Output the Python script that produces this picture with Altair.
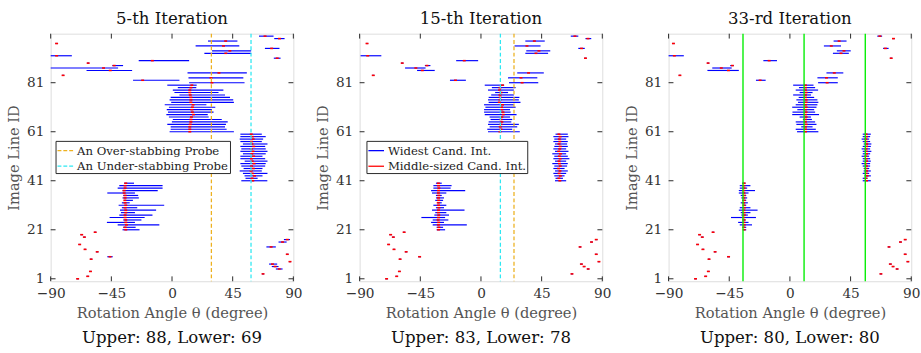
import altair as alt
import pandas as pd

FONT = "DejaVu Serif"
W, H = 249, 254
X_TICKS = [-90, -45, 0, 45, 90]
Y_TICKS = [1, 21, 41, 61, 81]
ROWS = list(range(1, 101))

TITLES = ["5-th Iteration", "15-th Iteration", "33-rd Iteration"]
CAPTIONS = ["Upper: 88, Lower: 69", "Upper: 83, Lower: 78", "Upper: 80, Lower: 80"]
INTERVAL_NAMES = ["Widest Cand. Int.", "Middle-sized Cand. Int."]
PROBE_NAMES = ["An Over-stabbing Probe", "An Under-stabbing Probe"]

# ---------- iteration 5 ----------
lo5 = [-70.8, -63.3, 66.7, -61.3, 77.0, 74.0, 72.0, 86.7, -60.8, -48.0, 84.7, -56.3, -65.3, 70.0, -69.3, 79.0, 83.0, -65.8, -67.8, -57.8,
       -36.7, -36.2, -40.3, -48.3, -36.2, -46.3, -39.1, -37.9, -38.6, -37.2, -39.6, -37.2, -35.5, -36.7, -36.2, -48.0, -36.7, -40.3, -39.1, -35.5,
       51.4, 54.5, 53.8, 52.6, 50.2, 53.1, 51.4, 50.7, 53.9, 50.7, 50.7, 52.6, 50.7, 51.4, 50.7, 52.6, 50.7, 50.2, 50.7, 50.7,
       -1.8, -1.0, -1.0, -3.5, -0.1, 0.6, -2.3, -4.2, -3.0, -3.9, -2.3, -5.4, -0.6, -1.8, -1.0, 5.5, 1.8, 0.6, 4.3, -3.5,
       12.7, -28.9, 12.2, -81.6, 11.5, -63.4, -90.0, -44.3, -63.0, -24.7, 75.5, -90.0, 24.0, 29.7, 68.9, 17.5, -86.4, 26.7, 75.8, 64.5]
hi5 = [-69.2, -61.7, 68.3, -59.7, 82.0, 79.0, 78.0, 88.3, -59.2, -44.0, 86.3, -54.7, -63.7, 77.0, -67.7, 85.0, 87.5, -64.2, -66.2, -56.2,
       -24.1, -27.0, -9.4, -27.5, -22.7, -20.3, -14.5, -27.5, -11.8, -25.8, -5.8, -31.4, -29.0, -24.6, -25.1, -27.5, -10.6, -7.0, -7.0, -28.2,
       70.7, 63.5, 67.1, 70.8, 66.6, 67.1, 69.1, 69.5, 70.8, 69.1, 67.1, 69.5, 70.8, 69.5, 69.1, 70.8, 66.6, 67.6, 69.5, 66.6,
       45.9, 40.5, 39.3, 40.0, 41.3, 36.9, 27.2, 26.5, 30.8, 29.6, 32.1, 25.5, 45.9, 45.4, 43.0, 39.3, 34.5, 38.1, 18.0, 18.3,
       53.8, 5.5, 52.9, -80.0, 55.5, -29.6, -40.0, -36.3, -61.4, 12.7, 80.5, -74.3, 58.7, 58.7, 79.7, 49.9, -84.8, 48.5, 83.5, 75.3]
mid5 = [-70.0, -62.5, 67.5, -60.5, 79.5, 76.5, 74.5, 87.5, -60.0, -46.0, 85.5, -55.5, -64.5, 73.5, -68.5, 82.0, 85.5, -65.0, -67.0, -57.0,
        -34.3, -34.8, -33.8, -34.3, -34.3, -34.8, -34.8, -34.3, -34.3, -34.8, -34.3, -34.8, -35.0, -34.8, -34.8, -35.5, -35.5, -34.8, -34.8, -34.3,
        59.9, 59.4, 61.1, 59.5, 58.7, 60.3, 59.0, 60.8, 59.5, 58.9, 60.5, 59.2, 60.0, 58.8, 60.6, 59.3, 58.9, 60.2, 59.6, 58.8,
        13.2, 13.2, 13.2, 13.5, 14.0, 14.0, 14.4, 15.9, 15.1, 14.7, 15.1, 15.6, 14.0, 14.0, 14.0, 13.5, 13.2, 13.2, 14.0, 14.7,
        29.6, -21.8, 28.9, -80.8, 34.8, -45.8, -50.8, -42.9, -62.2, -14.6, 78.0, -85.6, 39.9, 42.9, 73.9, 38.2, -85.6, 39.8, 79.7, 69.0]
probe5 = [29.2, 58.6]   # over-stabbing, under-stabbing

# rows 1-20 in the later iterations (single points)
lo_fix = [-70.8, -63.3, 66.7, -61.3, 78.7, 75.7, 73.7, 86.7, -60.8, -46.5, 84.7, -56.3, -65.3, 72.7, -69.3, 81.2, 84.7, -65.8, -67.8, -57.8]
hi_fix = [-69.2, -61.7, 68.3, -59.7, 80.3, 77.3, 75.3, 88.3, -59.2, -44.5, 86.3, -54.7, -63.7, 74.3, -67.7, 82.8, 86.3, -64.2, -66.2, -56.2]
mid_fix = [-70.0, -62.5, 67.5, -60.5, 79.5, 76.5, 74.5, 87.5, -60.0, -45.5, 85.5, -55.5, -64.5, 73.5, -68.5, 82.0, 85.5, -65.0, -67.0, -57.0]

# ---------- iteration 15 ----------
lo15 = lo_fix + [
    -32.9, -32.9, -35.8, -37.0, -35.8, -44.2, -34.6, -33.9, -36.3, -33.4, -35.3, -32.2, -33.9, -33.4, -33.4, -36.3, -37.0, -35.3, -35.3, -33.4,
    54.9, 55.3, 54.4, 53.7, 54.9, 53.7, 54.4, 52.9, 54.9, 53.7, 54.4, 52.9, 54.9, 53.7, 54.4, 54.9, 53.7, 54.4, 53.7, 55.3,
    5.2, 4.7, 6.4, 5.2, 5.7, 7.1, 6.4, 2.8, 2.3, 2.3, 3.3, 2.3, 5.7, 5.2, 5.7, 7.6, 10.5, 5.2, 8.1, 2.8,
    20.8, -23.0, 20.1, -80.7, 26.9, -47.4, -56.3, -41.6, -59.2, -18.4, 76.7, -89.3, 32.9, 33.6, 72.2, 24.9, -85.3, 32.9, 77.5, 66.6]
hi15 = hi_fix + [
    -26.6, -28.1, -10.5, -27.4, -24.2, -26.6, -23.7, -25.7, -12.2, -27.4, -25.7, -29.1, -28.1, -27.4, -29.1, -25.7, -11.7, -22.5, -21.8, -29.1,
    63.2, 60.8, 62.0, 63.2, 64.4, 62.0, 63.9, 64.4, 63.2, 65.6, 64.4, 63.2, 64.9, 63.2, 64.4, 63.9, 64.4, 63.2, 64.9, 64.4,
    28.8, 23.2, 26.9, 28.1, 22.5, 23.2, 21.6, 26.4, 22.0, 21.6, 25.7, 24.4, 29.3, 28.1, 28.5, 24.4, 20.1, 24.4, 25.7, 17.2,
    42.5, -11.2, 41.8, -79.1, 46.6, -34.3, -41.1, -37.5, -57.6, -2.1, 78.3, -73.9, 49.8, 51.4, 77.0, 44.2, -83.7, 47.3, 81.8, 72.2]
mid15 = mid_fix + [
    -31.5, -31.2, -31.6, -31.4, -31.8, -31.5, -31.3, -31.6, -31.5, -31.2, -31.5, -31.7, -31.4, -31.5, -31.3, -31.6, -31.5, -31.2, -31.5, -31.6,
    58.5, 57.8, 58.9, 58.0, 58.6, 57.6, 58.8, 58.2, 57.9, 58.7, 58.1, 58.9, 57.7, 58.4, 58.8, 57.9, 58.5, 58.1, 58.7, 57.8,
    14.1, 14.8, 14.3, 14.8, 15.5, 14.8, 15.5, 16.5, 16.3, 15.5, 15.3, 16.0, 13.6, 14.1, 14.3, 14.1, 14.8, 13.8, 14.1, 16.0,
    30.5, -18.9, 29.7, -79.9, 35.3, -43.5, -48.3, -40.1, -58.4, -12.4, 77.5, -84.0, 40.8, 43.0, 74.6, 34.1, -84.5, 39.6, 79.4, 69.7]
probe15 = [24.5, 14.4]  # over-stabbing, under-stabbing

# ---------- iteration 33 ----------
lo33 = lo_fix + [
    -34.8, -34.8, -37.2, -38.4, -35.3, -43.7, -36.0, -36.5, -37.9, -37.2, -34.8, -36.5, -35.5, -36.0, -36.5, -37.9, -37.9, -37.2, -37.2, -35.5,
    54.0, 54.0, 55.2, 54.0, 54.7, 54.7, 54.0, 53.2, 54.0, 54.0, 53.2, 54.0, 54.0, 53.2, 54.0, 54.7, 54.0, 53.2, 54.0, 54.0,
    5.3, 4.3, 8.4, 4.8, 4.3, 9.6, 7.2, 1.7, 1.9, 5.5, 1.7, 4.3, 6.0, 4.8, 6.5, 2.4, 7.2, 4.3, 6.7, 2.4,
    20.9, -25.2, 20.4, -82.4, 27.1, -61.2, -57.6, -44.3, -61.5, -19.7, 74.3, -90.0, 31.9, 34.8, 69.1, 25.2, -87.2, 32.4, 76.0, 64.8]
hi33 = hi_fix + [
    -32.4, -32.4, -28.1, -30.7, -32.9, -25.2, -31.2, -29.3, -24.0, -29.3, -32.4, -31.2, -32.4, -31.7, -32.4, -30.7, -25.9, -31.7, -29.3, -32.9,
    60.0, 57.6, 60.0, 58.8, 60.0, 58.8, 59.5, 59.5, 60.0, 59.5, 58.8, 59.5, 60.4, 59.5, 60.0, 60.4, 59.5, 58.8, 59.5, 60.0,
    21.1, 19.2, 16.8, 19.7, 18.7, 16.3, 15.6, 21.6, 18.7, 18.0, 19.7, 20.4, 21.1, 20.4, 18.0, 15.6, 16.8, 20.9, 18.7, 17.5,
    35.5, -18.0, 35.5, -80.8, 39.6, -37.9, -43.2, -41.6, -59.9, -9.6, 75.9, -78.7, 43.7, 45.1, 73.2, 37.9, -85.6, 42.0, 77.6, 68.4]
mid33 = mid_fix + [
    -34.0, -34.3, -33.9, -34.2, -34.0, -34.4, -33.8, -34.1, -34.2, -33.9, -34.1, -34.3, -34.0, -34.2, -33.9, -34.1, -34.3, -34.0, -34.2, -34.0,
    56.8, 56.3, 57.2, 56.5, 56.9, 56.4, 56.7, 56.2, 56.8, 56.5, 56.3, 56.9, 56.6, 56.4, 56.8, 57.0, 56.5, 56.3, 56.7, 56.5,
    11.5, 11.5, 11.5, 12.0, 11.5, 11.5, 12.0, 11.5, 12.0, 11.5, 12.0, 11.5, 12.0, 12.0, 11.5, 11.5, 12.0, 11.5, 11.5, 11.5,
    27.6, -22.1, 27.1, -81.6, 32.9, -45.6, -50.9, -42.7, -60.7, -15.4, 75.1, -85.7, 37.9, 40.1, 70.8, 30.7, -86.4, 36.5, 76.8, 66.7]
stab33 = [-34.8, 10.5, 55.9]

BLUE, RED = "#0000FF", "#FF0000"
ORANGE, CYAN, GREEN = "#EDB120", "#2FE8F2", "#00EE00"
FRAME = "#262626"
RED_HALF = 1.1
DASH = [4, 2.5]

XS = alt.Scale(domain=[-90, 90], nice=False, zero=False)
YS = alt.Scale(domain=[0, 101], nice=False, zero=False)
XAX = alt.Axis(values=X_TICKS, title="Rotation Angle θ (degree)", grid=False, ticks=False, domain=False,
               labelFlush=False, labelPadding=6, titlePadding=5, labelFont=FONT, labelFontSize=14,
               titleFont=FONT, titleFontSize=15, titleFontWeight="normal", labelColor="#333333",
               titleColor="#555555")
YAX = alt.Axis(values=Y_TICKS, title="Image Line ID", grid=False, ticks=False, domain=False,
               labelPadding=7, titlePadding=5, labelFont=FONT, labelFontSize=14,
               titleFont=FONT, titleFontSize=15, titleFontWeight="normal", labelColor="#333333",
               titleColor="#555555")


def X(f):
    return alt.X(f, type="quantitative", scale=XS, axis=XAX)


def Y(f):
    return alt.Y(f, type="quantitative", scale=YS, axis=YAX)


def legend_props(lx, dash=None):
    kw = dict(title=None, orient="none", legendX=lx, legendY=110, symbolType="stroke",
              symbolStrokeWidth=1.3, symbolSize=256, labelFont=FONT, labelFontSize=12,
              labelColor="#222222", strokeColor=FRAME, fillColor="white", padding=1,
              rowPadding=1, labelOffset=3, labelLimit=400, cornerRadius=0)
    if dash:
        kw["symbolDash"] = dash
    return alt.Legend(**kw)


def panel(title, caption, lo, hi, mid, probe_layers, interval_legend):
    blue_df = pd.DataFrame({"row": ROWS, "lo": lo, "hi": hi, "kind": INTERVAL_NAMES[0]})
    red_df = pd.DataFrame({"row": ROWS, "lo": [m - RED_HALF for m in mid],
                           "hi": [m + RED_HALF for m in mid], "kind": INTERVAL_NAMES[1]})
    if interval_legend:
        col = alt.Color("kind:N", scale=alt.Scale(domain=INTERVAL_NAMES, range=[BLUE, RED]),
                        legend=legend_props(7))
        bcol, rcol = col, col
    else:
        bcol, rcol = alt.value(BLUE), alt.value(RED)
    blue = alt.Chart(blue_df).mark_rule(strokeWidth=1.2).encode(
        x=X("lo"), x2="hi", y=Y("row"), color=bcol)
    red = alt.Chart(red_df).mark_rule(strokeWidth=1.6).encode(
        x=X("lo"), x2="hi", y=Y("row"), color=rcol)

    xt = pd.DataFrame({"t": X_TICKS})
    yt = pd.DataFrame({"t": Y_TICKS})
    tick_style = dict(color=FRAME, strokeWidth=1)
    tb = alt.Chart(xt).mark_rule(**tick_style).encode(x=X("t"), y=alt.value(H), y2=alt.value(H - 5))
    tt = alt.Chart(xt).mark_rule(**tick_style).encode(x=X("t"), y=alt.value(0), y2=alt.value(5))
    tl = alt.Chart(yt).mark_rule(**tick_style).encode(y=Y("t"), x=alt.value(0), x2=alt.value(5))
    tr = alt.Chart(yt).mark_rule(**tick_style).encode(y=Y("t"), x=alt.value(W), x2=alt.value(W - 5))

    cap = alt.Chart(pd.DataFrame({"c": [caption]})).mark_text(
        font=FONT, fontSize=17, color="#111111", baseline="alphabetic", align="center"
    ).encode(text="c:N", x=alt.value(W / 2), y=alt.value(H + 63))

    layers = [blue, red] + probe_layers + [tb, tt, tl, tr, cap]
    return alt.layer(*layers).properties(
        width=W, height=H,
        title=alt.TitleParams(title, font=FONT, fontSize=17, fontWeight="normal",
                              color="#111111", offset=5, anchor="middle"))


# probes for each panel
p5_df = pd.DataFrame({"x": probe5, "probe": PROBE_NAMES})
p5 = alt.Chart(p5_df).mark_rule(strokeDash=DASH, strokeWidth=1.3).encode(
    x=X("x"),
    color=alt.Color("probe:N", scale=alt.Scale(domain=PROBE_NAMES, range=[ORANGE, CYAN]),
                    legend=legend_props(5, dash=[4, 2])))

p15_over = alt.Chart(pd.DataFrame({"x": probe15[:1]})).mark_rule(
    strokeDash=DASH, strokeWidth=1.3, color=ORANGE).encode(x=X("x"))
p15_under = alt.Chart(pd.DataFrame({"x": probe15[1:]})).mark_rule(
    strokeDash=DASH, strokeWidth=1.3, color=CYAN).encode(x=X("x"))

p33 = alt.Chart(pd.DataFrame({"x": stab33})).mark_rule(strokeWidth=1.4, color=GREEN).encode(x=X("x"))

c1 = panel(TITLES[0], CAPTIONS[0], lo5, hi5, mid5, [p5], False)
c2 = panel(TITLES[1], CAPTIONS[1], lo15, hi15, mid15, [p15_over, p15_under], True)
c3 = panel(TITLES[2], CAPTIONS[2], lo33, hi33, mid33, [p33], False)

chart = alt.hconcat(c1, c2, c3, spacing=12).resolve_scale(color="independent").properties(
    padding={"left": 6, "top": 5, "right": 0, "bottom": 0}
).configure_view(stroke=FRAME, strokeWidth=1).configure(background="white")

chart.save("out.html", embed_options={"renderer": "svg", "actions": False})
